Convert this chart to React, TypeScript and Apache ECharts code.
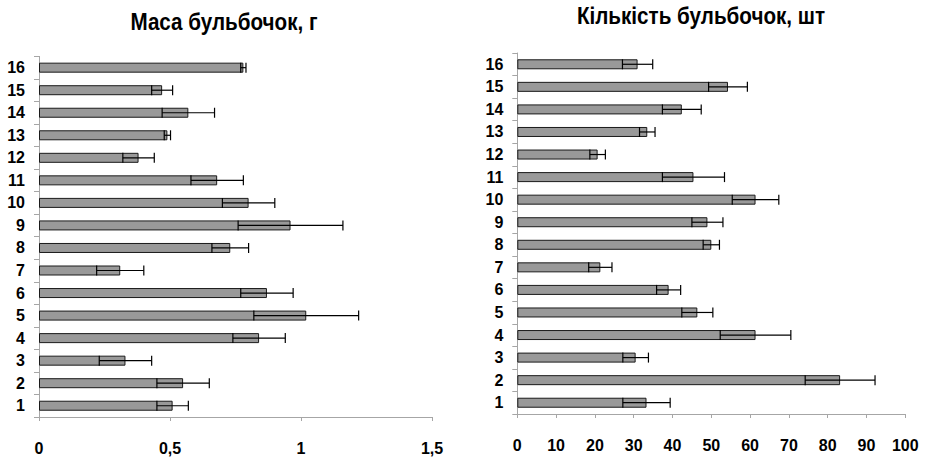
import React, { useEffect, useRef } from "react";
import * as echarts from "echarts";

// Variety numbers 1..16 (bottom to top)
const categories = ["1", "2", "3", "4", "5", "6", "7", "8", "9", "10", "11", "12", "13", "14", "15", "16"];

// Tuber mass, g (mean and standard error)
const massValues = [0.51, 0.55, 0.33, 0.84, 1.02, 0.87, 0.31, 0.73, 0.96, 0.8, 0.68, 0.38, 0.49, 0.57, 0.47, 0.78];
const massErrors = [0.06, 0.1, 0.1, 0.1, 0.2, 0.1, 0.09, 0.07, 0.2, 0.1, 0.1, 0.06, 0.012, 0.1, 0.04, 0.01];

// Tuber count, pcs (mean and standard error)
const countValues = [33.3, 83.2, 30.5, 61.4, 46.4, 39.0, 21.4, 50.0, 49.0, 61.4, 45.4, 20.7, 33.5, 42.4, 54.3, 31.0];
const countErrors = [6.1, 9.0, 3.3, 9.1, 4.0, 3.1, 3.0, 2.1, 4.0, 6.0, 8.0, 2.0, 2.0, 5.0, 5.0, 3.9];

const massTitle = "Маса бульбочок, г";
const countTitle = "Кількість бульбочок, шт";

const LABEL_FONT = "'Liberation Sans', Arial, sans-serif";
const TITLE_FONT = "'Liberation Sans', Arial, sans-serif";
const BAR_HEIGHT = 10;

function errorRenderer(params: any, api: any) {
  const cat = api.value(0);
  const lo = api.coord([api.value(1), cat]);
  const hi = api.coord([api.value(2), cat]);
  const half = BAR_HEIGHT / 2;
  const style = { stroke: "#000", lineWidth: 1.2 };
  return {
    type: "group",
    children: [
      { type: "line", shape: { x1: lo[0], y1: lo[1], x2: hi[0], y2: hi[1] }, style },
      { type: "line", shape: { x1: lo[0], y1: lo[1] - half, x2: lo[0], y2: lo[1] + half }, style },
      { type: "line", shape: { x1: hi[0], y1: hi[1] - half, x2: hi[0], y2: hi[1] + half }, style },
    ],
  };
}

function catAxis(gridIndex: number) {
  return {
    type: "category",
    gridIndex,
    data: categories,
    axisLine: { show: true, lineStyle: { color: "#a6a6a6", width: 1 } },
    axisTick: { show: true, length: 5, lineStyle: { color: "#a6a6a6" } },
    axisLabel: {
      color: "#000",
      fontFamily: LABEL_FONT,
      fontWeight: 900,
      fontSize: 16,
      margin: 14,
    },
    splitLine: { show: false },
  };
}

function valAxis(gridIndex: number, max: number, interval: number, decimalComma: boolean) {
  return {
    type: "value",
    gridIndex,
    min: 0,
    max,
    interval,
    axisLine: { show: true, lineStyle: { color: "#a6a6a6", width: 1 } },
    axisTick: { show: true, length: 4, lineStyle: { color: "#a6a6a6" } },
    splitLine: { show: false },
    axisLabel: {
      color: "#000",
      fontFamily: LABEL_FONT,
      fontWeight: 900,
      fontSize: 16,
      margin: 23,
      formatter: (v: number) => (decimalComma ? String(v).replace(".", ",") : String(v)),
    },
  };
}

function titleText(text: string, x: number, y: number) {
  // Condensed bold heading: regular face squeezed horizontally
  return {
    type: "text",
    x,
    y,
    scaleX: 0.86,
    style: {
      text,
      fontFamily: TITLE_FONT,
      fontWeight: "bold",
      fontSize: 24,
      fill: "#000",
      textAlign: "center",
      textVerticalAlign: "middle",
    },
  };
}

export default function App() {
  const ref = useRef<HTMLDivElement>(null);

  useEffect(() => {
    if (!ref.current) return;
    const chart = echarts.init(ref.current, null, { renderer: "svg" });

    const barStyle = { color: "#999999", borderColor: "#1a1a1a", borderWidth: 1 };

    chart.setOption({
      animation: false,
      backgroundColor: "#ffffff",
      grid: [
        { left: 39, top: 56.4, width: 393, height: 360.6 },
        { left: 517.3, top: 53, width: 388, height: 361 },
      ],
      xAxis: [valAxis(0, 1.5, 0.5, true), valAxis(1, 100, 10, false)],
      yAxis: [catAxis(0), catAxis(1)],
      graphic: [titleText(massTitle, 224, 22), titleText(countTitle, 701, 16)],
      series: [
        {
          type: "bar",
          xAxisIndex: 0,
          yAxisIndex: 0,
          barWidth: BAR_HEIGHT,
          itemStyle: barStyle,
          data: massValues,
        },
        {
          type: "custom",
          xAxisIndex: 0,
          yAxisIndex: 0,
          renderItem: errorRenderer,
          encode: { x: [1, 2], y: 0 },
          data: massValues.map((v, i) => [i, v - massErrors[i], v + massErrors[i]]),
          z: 3,
        },
        {
          type: "bar",
          xAxisIndex: 1,
          yAxisIndex: 1,
          barWidth: BAR_HEIGHT,
          itemStyle: barStyle,
          data: countValues,
        },
        {
          type: "custom",
          xAxisIndex: 1,
          yAxisIndex: 1,
          renderItem: errorRenderer,
          encode: { x: [1, 2], y: 0 },
          data: countValues.map((v, i) => [i, v - countErrors[i], v + countErrors[i]]),
          z: 3,
        },
      ],
    });

    return () => chart.dispose();
  }, []);

  return (
    <div
      ref={ref}
      style={{ position: "fixed", left: 0, top: 0, width: 926, height: 457, background: "#fff" }}
    />
  );
}
